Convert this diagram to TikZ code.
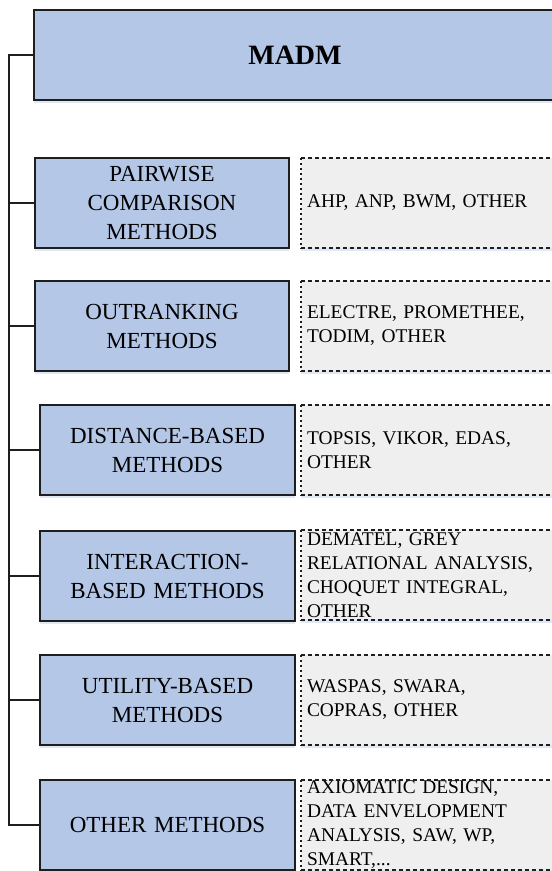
\documentclass[tikz,border=0pt]{standalone}
\usepackage{fontspec}
\setmainfont{Liberation Serif}
\usetikzlibrary{shadows}
\definecolor{boxblue}{HTML}{B4C7E7}
\definecolor{boxgrey}{HTML}{EFEFEF}
\definecolor{edgecol}{HTML}{1E1E1E}
\definecolor{shadecol}{HTML}{D3DEEE}
\begin{document}
\begin{tikzpicture}[x=1pt,y=-1pt,
  softshadow/.style={drop shadow={shadow xshift=0pt, shadow yshift=-3pt, fill=shadecol, opacity=0.7}},
  methodbox/.style={rectangle, draw=edgecol, line width=1.5pt, fill=boxblue, inner xsep=6pt, inner ysep=0pt,
    text width=242pt, minimum width=254pt, minimum height=90pt, align=center,
    font=\fontsize{23}{29}\selectfont, softshadow},
  listbox/.style={rectangle, draw=none, fill=boxgrey, inner xsep=6pt, inner ysep=0pt,
    text width=243pt, minimum width=255pt, minimum height=90pt, align=left,
    font=\fontsize{19.4}{24}\selectfont, softshadow},
  hdash/.style={draw=edgecol, line width=1.6pt, dash pattern=on 4pt off 3pt},
  vdash/.style={draw=edgecol, line width=1.6pt, dash pattern=on 2pt off 3pt},
  conn/.style={draw=edgecol, line width=1.5pt}]
\useasboundingbox (0,0) rectangle (552,871);
\clip (0,0) rectangle (552,871);

% main box
\node[methodbox, minimum width=522pt, text width=510pt, font=\fontsize{28}{33}\selectfont\bfseries] (madm) at (295,55) {MADM};

% method boxes
\node[methodbox] (pair)  at (162,203) {PAIRWISE\\COMPARISON\\METHODS};
\node[methodbox] (outr)  at (162,326) {OUTRANKING\\METHODS};
\node[methodbox, minimum width=255pt] (dist)  at (167.5,450) {DISTANCE-BASED\\METHODS};
\node[methodbox, minimum width=255pt] (inter) at (167.5,576) {INTERACTION-\\BASED METHODS};
\node[methodbox, minimum width=255pt] (util)  at (167.5,700) {UTILITY-BASED\\METHODS};
\node[methodbox, minimum width=255pt] (oth)   at (167.5,825) {OTHER METHODS};

% list boxes
\node[listbox] (lpair)  at (428.5,203) {AHP, ANP, BWM, OTHER};
\node[listbox] (loutr)  at (428.5,326) {ELECTRE, PROMETHEE,\\TODIM, OTHER};
\node[listbox] (ldist)  at (428.5,450) {TOPSIS, VIKOR, EDAS,\\OTHER};
\node[listbox] (linter) at (428.5,575) {DEMATEL, GREY\\RELATIONAL ANALYSIS,\\CHOQUET INTEGRAL,\\OTHER};
\node[listbox] (lutil)  at (428.5,700) {WASPAS, SWARA,\\COPRAS, OTHER};
\node[listbox] (loth)   at (428.5,825) {AXIOMATIC DESIGN,\\DATA ENVELOPMENT\\ANALYSIS, SAW, WP,\\SMART,...};

% dashed outlines
\foreach \n in {lpair,loutr,ldist,linter,lutil,loth}{
  \draw[hdash] (\n.north west) -- (\n.north east);
  \draw[hdash] (\n.south west) -- (\n.south east);
  \draw[vdash] (\n.north west) -- (\n.south west);
  \draw[vdash] (\n.north east) -- (\n.south east);
}

% spine connectors
\coordinate (spinetop) at (9,55);
\coordinate (spinebot) at (9,825);
\draw[conn] (madm.west) -- (spinetop) -- (spinebot) -- (oth.west);
\foreach \n in {pair,outr,dist,inter,util}{
  \draw[conn] (\n.west) -- (\n.west -| spinetop);
}
\end{tikzpicture}
\end{document}
